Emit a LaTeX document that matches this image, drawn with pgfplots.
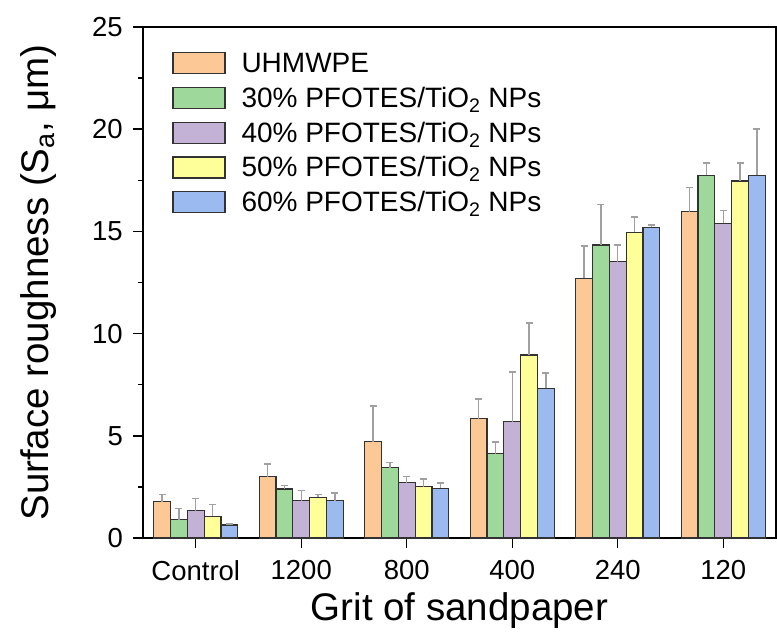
\documentclass[border=0pt]{standalone}
\usepackage{pgfplots}
\pgfplotsset{compat=1.18}
\usepackage{fontspec}
\setmainfont{Liberation Sans}
\definecolor{cO}{RGB}{252,200,150}
\definecolor{cG}{RGB}{158,216,154}
\definecolor{cP}{RGB}{196,178,214}
\definecolor{cY}{RGB}{255,255,153}
\definecolor{cB}{RGB}{155,187,240}
\definecolor{errc}{RGB}{160,160,160}
\definecolor{edge}{RGB}{50,50,50}
\begin{document}
\begin{tikzpicture}
\begin{axis}[
  name=ax,
  scale only axis,
  width=633pt, height=511pt,
  xmin=-0.5, xmax=5.5, ymin=0, ymax=25,
  ybar=0pt, bar width=16.8pt,
  xtick={0,1,2,3,4,5},
  xticklabels={Control,1200,800,400,240,120},
  ytick={0,5,10,15,20,25},
  minor y tick num=1,
  xtick pos=lower, ytick pos=left,
  tick align=outside,
  major tick length=10pt, minor tick length=5pt,
  every tick/.style={line width=1.4pt, black},
  axis line style={line width=1.6pt},
  /pgf/number format/assume math mode=true,
  tick label style={font=\fontsize{27.5}{32}\selectfont, inner sep=0pt},
  xticklabel style={anchor=north, yshift=-12pt},
  yticklabel style={anchor=east, xshift=-10pt},
  xlabel={Grit of sandpaper},
  ylabel={Surface roughness (S\textsubscript{a}, μm)},
  label style={font=\fontsize{38.5}{44}\selectfont, inner sep=0pt},
  xlabel style={at={(axis description cs:0.5,-0.161)}, anchor=base},
  ylabel style={at={(axis description cs:-0.136,0.5)}, anchor=south},
  error bars/y dir=plus, error bars/y explicit,
  error bars/error bar style={errc, line width=1.4pt},
  error bars/error mark options={errc, rotate=90, mark size=3.5pt, line width=1.4pt},
  every axis plot/.append style={draw=edge, line width=1.2pt},
  legend style={draw=none, fill=none, at={(axis description cs:0.046,0.951)}, anchor=north west,
    font=\fontsize{28}{33}\selectfont, row sep=12.5pt, inner sep=0pt, nodes={inner sep=0pt},
    /tikz/every odd column/.append style={column sep=16pt}},
  legend cell align=left,
  legend image code/.code={\draw[#1, draw=edge, line width=1.2pt] (0pt,-10.5pt) rectangle (52pt,10.5pt);},
]
\addplot[fill=cO] coordinates {(0,1.78)+-(0,0.36) (1,3.00)+-(0,0.63) (2,4.71)+-(0,1.74) (3,5.83)+-(0,0.98) (4,12.70)+-(0,1.58) (5,15.96)+-(0,1.19)};
\addplot[fill=cG] coordinates {(0,0.90)+-(0,0.53) (1,2.40)+-(0,0.16) (2,3.44)+-(0,0.26) (3,4.12)+-(0,0.57) (4,14.33)+-(0,2.00) (5,17.75)+-(0,0.60)};
\addplot[fill=cP] coordinates {(0,1.34)+-(0,0.60) (1,1.82)+-(0,0.49) (2,2.70)+-(0,0.30) (3,5.69)+-(0,2.44) (4,13.51)+-(0,0.82) (5,15.39)+-(0,0.63)};
\addplot[fill=cY] coordinates {(0,1.06)+-(0,0.57) (1,2.00)+-(0,0.14) (2,2.51)+-(0,0.37) (3,8.95)+-(0,1.56) (4,14.95)+-(0,0.76) (5,17.47)+-(0,0.88)};
\addplot[fill=cB] coordinates {(0,0.64)+-(0,0.04) (1,1.82)+-(0,0.38) (2,2.44)+-(0,0.26) (3,7.32)+-(0,0.76) (4,15.21)+-(0,0.10) (5,17.75)+-(0,2.26)};
\legend{UHMWPE,30\% PFOTES/TiO\textsubscript{2} NPs,40\% PFOTES/TiO\textsubscript{2} NPs,50\% PFOTES/TiO\textsubscript{2} NPs,60\% PFOTES/TiO\textsubscript{2} NPs}
\end{axis}
\path ([xshift=-143pt,yshift=-101pt]ax.south west) rectangle ([xshift=1pt,yshift=27pt]ax.north east);
\end{tikzpicture}
\end{document}
